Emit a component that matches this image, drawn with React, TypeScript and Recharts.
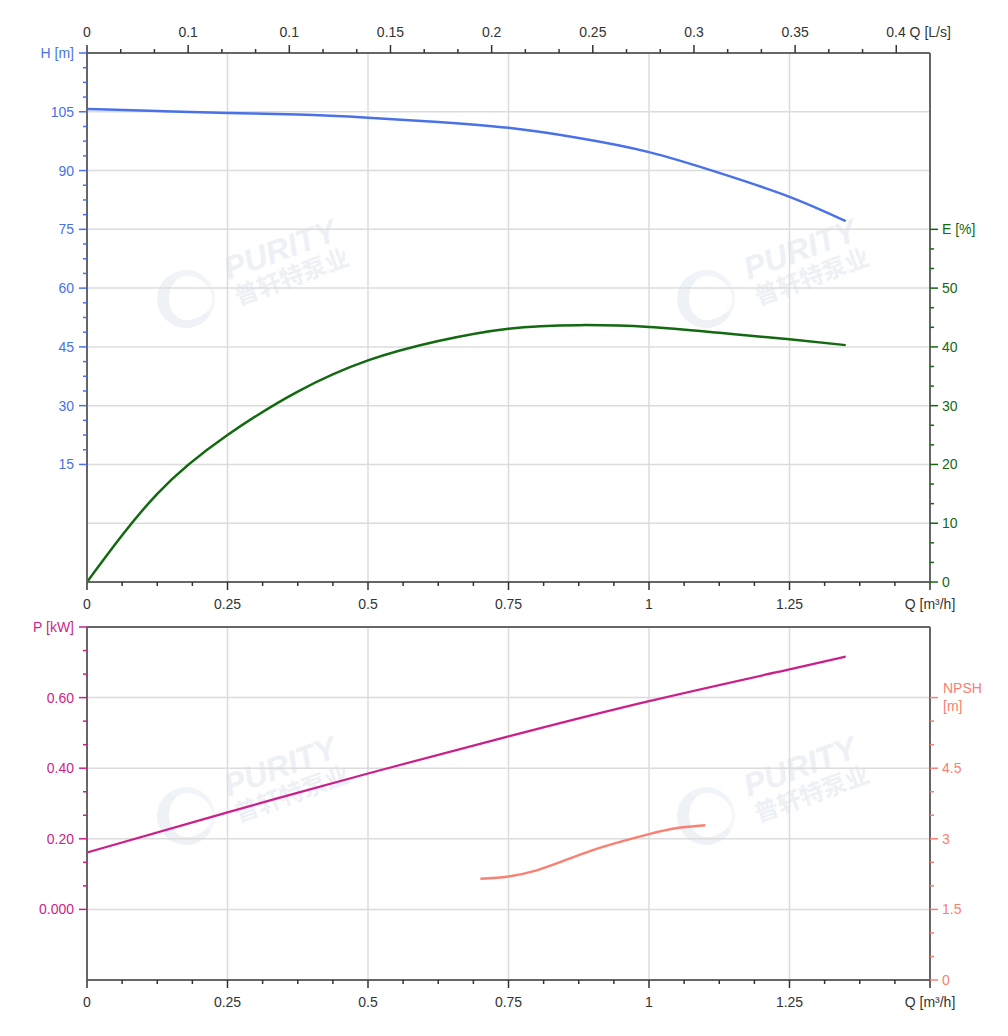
import React from 'react'
import { LineChart, Line, XAxis, YAxis, ReferenceLine } from 'recharts'

// flow axis (m³/h), bottom of both panels
const Q_MAJOR = [0, 0.25, 0.5, 0.75, 1, 1.25, 1.5]
const Q_LABELS = ['0', '0.25', '0.5', '0.75', '1', '1.25', 'Q [m³/h]']
// flow axis (L/s), top of upper panel
const LS_MAJOR = [0, 0.05, 0.1, 0.15, 0.2, 0.25, 0.3, 0.35, 0.4]
const LS_LABELS = ['0', '0.1', '0.1', '0.15', '0.2', '0.25', '0.3', '0.35', '0.4 Q [L/s]']
const H_MAJOR = [15, 30, 45, 60, 75, 90, 105, 120]
const H_LABELS = ['15', '30', '45', '60', '75', '90', '105', 'H [m]']
const H_GRID = [0, 15, 30, 45, 60, 75, 90, 105]
const E_MAJOR = [0, 10, 20, 30, 40, 50, 60]
const E_LABELS = ['0', '10', '20', '30', '40', '50', 'E [%]']
const P_MAJOR = [0, 0.2, 0.4, 0.6, 0.8]
const P_LABELS = ['0.000', '0.20', '0.40', '0.60', 'P [kW]']
const NPSH_MAJOR = [0, 1.5, 3, 4.5, 6]
const NPSH_LABELS = ['0', '1.5', '3', '4.5', 'NPSH [m]']
const Q_GRID = [0.25, 0.5, 0.75, 1, 1.25]
const P_GRID = [0, 0.2, 0.4, 0.6]

// curves
const H_Q = [0, 0.125, 0.25, 0.375, 0.5, 0.625, 0.75, 0.875, 1, 1.125, 1.25, 1.35]
const H_VALUES = [105.7, 105.2, 104.7, 104.3, 103.5, 102.4, 100.9, 98.3, 94.7, 89.4, 83.3, 77.1]
const E_Q = [0, 0.125, 0.25, 0.375, 0.5, 0.625, 0.75, 0.875, 1, 1.125, 1.25, 1.35]
const E_VALUES = [0, 15.0, 25.0, 32.4, 37.7, 41.0, 43.1, 43.7, 43.4, 42.4, 41.3, 40.3]
const P_Q = [0, 0.25, 0.5, 0.75, 1, 1.25, 1.35]
const P_VALUES = [0.161, 0.275, 0.385, 0.49, 0.59, 0.68, 0.716]
const NPSH_Q = [0.7, 0.75, 0.8, 0.85, 0.9, 0.95, 1, 1.05, 1.1]
const NPSH_VALUES = [2.15, 2.2, 2.33, 2.54, 2.76, 2.94, 3.1, 3.23, 3.29]

const LS_PER_M3H = 1 / 3.6

const hData = H_Q.map((q, i) => ({ q, h: H_VALUES[i] }))
const eData = E_Q.map((q, i) => ({ q, e: E_VALUES[i] }))
const pData = P_Q.map((q, i) => ({ q, p: P_VALUES[i] }))
const npshData = NPSH_Q.map((q, i) => ({ q, npsh: NPSH_VALUES[i] }))

// major ticks plus n-1 minor ticks between each pair
const subdivide = (majors: number[], n: number) =>
  majors.flatMap((m, i) =>
    i === majors.length - 1 ? [m] : Array.from({ length: n }, (_, k) => m + ((majors[i + 1] - m) * k) / n)
  )

const FONT = '"Liberation Sans", Arial, sans-serif'
const FRAME = '#666'
const GRID = '#dcdcdc'
const AXIS_TEXT = '#333'
const H_COLOR = '#4a72e8'
const E_COLOR = '#13690f'
const P_COLOR = '#cc1f8a'
const NPSH_COLOR = '#fa8072'

type Side = 'top' | 'bottom' | 'left' | 'right'

function makeTick(side: Side, majors: number[], labels: string[], tickColor: string, textColor: string) {
  return (props: any) => {
    const { x, y, payload } = props
    const idx = majors.findIndex((m) => Math.abs(m - payload.value) < 1e-6)
    const len = idx >= 0 ? 8 : 4
    const label = idx >= 0 ? labels[idx] : null
    const txt = { fontFamily: FONT, fontSize: 14, fill: textColor }
    if (side === 'bottom') {
      return (
        <g>
          <line x1={x} y1={y} x2={x} y2={y + len} stroke={tickColor} strokeWidth={1.5} />
          {label && <text x={x} y={y + 27} textAnchor="middle" {...txt}>{label}</text>}
        </g>
      )
    }
    if (side === 'top') {
      const last = idx === majors.length - 1
      return (
        <g>
          <line x1={x} y1={y} x2={x} y2={y - len} stroke={tickColor} strokeWidth={1.5} />
          {label && (
            <text x={last ? x - 10 : x} y={y - 16} textAnchor={last ? 'start' : 'middle'} {...txt}>
              {label}
            </text>
          )}
        </g>
      )
    }
    if (side === 'left') {
      return (
        <g>
          <line x1={x} y1={y} x2={x - len} y2={y} stroke={tickColor} strokeWidth={1.5} />
          {label && <text x={x - 13} y={y + 5} textAnchor="end" {...txt}>{label}</text>}
        </g>
      )
    }
    const parts = label ? label.split(' ') : []
    return (
      <g>
        <line x1={x} y1={y} x2={x + len} y2={y} stroke={tickColor} strokeWidth={1.5} />
        {label && label.startsWith('NPSH') ? (
          <text x={x + 13} y={y - 5} textAnchor="start" {...txt}>
            <tspan x={x + 13}>{parts[0]}</tspan>
            <tspan x={x + 13} dy={18}>{parts[1]}</tspan>
          </text>
        ) : (
          label && <text x={x + 12} y={y + 5} textAnchor="start" {...txt}>{label}</text>
        )}
      </g>
    )
  }
}

function Watermark({ left, top }: { left: number; top: number }) {
  const word = {
    position: 'absolute' as const,
    transform: 'translate(-50%, -50%) rotate(-20deg)',
    fontFamily: FONT,
    fontWeight: 'bold' as const,
    color: '#edf0f5',
    whiteSpace: 'nowrap' as const,
  }
  return (
    <div style={{ position: 'absolute', left, top, width: 200, height: 110 }}>
      <div
        style={{
          position: 'absolute',
          left: 2,
          top: 45,
          width: 58,
          height: 58,
          borderRadius: '50%',
          borderLeft: '12px solid #eef1f6',
          borderBottom: '8px solid #eef1f6',
          borderTop: '6px solid #f1f4f8',
          borderRight: '3px solid #f4f6f9',
          boxSizing: 'border-box',
        }}
      />
      <div style={{ ...word, left: 125, top: 25, fontSize: 32, fontStyle: 'italic' }}>PURITY</div>
      <div style={{ ...word, left: 136, top: 50, fontSize: 24, fontFamily: '"Noto Sans CJK SC", sans-serif' }}>
        普轩特泵业
      </div>
    </div>
  )
}

const axisLine = { stroke: FRAME, strokeWidth: 2 }

export default function App() {
  return (
    <div style={{ position: 'absolute', left: 0, top: 0, width: 1008, height: 1036, background: '#fff' }}>
      <Watermark left={155} top={225} />
      <Watermark left={675} top={225} />
      <Watermark left={155} top={742} />
      <Watermark left={675} top={742} />

      <div style={{ position: 'absolute', left: 0, top: 0 }}>
        <LineChart width={1008} height={612} margin={{ top: 23, right: 28, bottom: 0, left: 37 }}>
          <XAxis
            xAxisId="q"
            dataKey="q"
            type="number"
            domain={[0, 1.5]}
            allowDataOverflow
            ticks={subdivide(Q_MAJOR, 4)}
            interval={0}
            height={30}
            tickSize={0}
            tickMargin={0}
            axisLine={axisLine}
            tickLine={false}
            tick={makeTick('bottom', Q_MAJOR, Q_LABELS, AXIS_TEXT, AXIS_TEXT)}
          />
          <XAxis
            xAxisId="ls"
            orientation="top"
            dataKey={(d: { q: number }) => d.q * LS_PER_M3H}
            type="number"
            domain={[0, 1.5 * LS_PER_M3H]}
            allowDataOverflow
            ticks={subdivide(LS_MAJOR, 3)}
            interval={0}
            height={30}
            tickSize={0}
            tickMargin={0}
            axisLine={axisLine}
            tickLine={false}
            tick={makeTick('top', LS_MAJOR, LS_LABELS, AXIS_TEXT, AXIS_TEXT)}
          />
          <YAxis
            yAxisId="h"
            type="number"
            domain={[-15, 120]}
            allowDataOverflow
            ticks={subdivide(H_MAJOR, 4)}
            interval={0}
            width={50}
            tickSize={0}
            tickMargin={0}
            axisLine={axisLine}
            tickLine={false}
            tick={makeTick('left', H_MAJOR, H_LABELS, H_COLOR, H_COLOR)}
          />
          <YAxis
            yAxisId="e"
            orientation="right"
            type="number"
            domain={[0, 90]}
            allowDataOverflow
            ticks={subdivide(E_MAJOR, 3)}
            interval={0}
            width={50}
            tickSize={0}
            tickMargin={0}
            axisLine={axisLine}
            tickLine={false}
            tick={makeTick('right', E_MAJOR, E_LABELS, E_COLOR, E_COLOR)}
          />
          {Q_GRID.map((v) => (
            <ReferenceLine key={`qx${v}`} x={v} xAxisId="q" yAxisId="h" stroke={GRID} strokeWidth={1.5} />
          ))}
          {H_GRID.map((v) => (
            <ReferenceLine key={`hy${v}`} y={v} xAxisId="q" yAxisId="h" stroke={GRID} strokeWidth={1.5} />
          ))}
          {/* head curve drawn on the L/s scale (same positions as m³/h) */}
          <Line
            data={hData}
            dataKey="h"
            xAxisId="ls"
            yAxisId="h"
            type="natural"
            stroke={H_COLOR}
            strokeWidth={2.5}
            dot={false}
            isAnimationActive={false}
          />
          <Line
            data={eData}
            dataKey="e"
            xAxisId="q"
            yAxisId="e"
            type="natural"
            stroke={E_COLOR}
            strokeWidth={2.5}
            dot={false}
            isAnimationActive={false}
          />
        </LineChart>
      </div>

      <div style={{ position: 'absolute', left: 0, top: 612 }}>
        <LineChart width={1008} height={400} margin={{ top: 15, right: 28, bottom: 2, left: 37 }}>
          <XAxis
            xAxisId="q"
            dataKey="q"
            type="number"
            domain={[0, 1.5]}
            allowDataOverflow
            ticks={subdivide(Q_MAJOR, 4)}
            interval={0}
            height={30}
            tickSize={0}
            tickMargin={0}
            axisLine={axisLine}
            tickLine={false}
            tick={makeTick('bottom', Q_MAJOR, Q_LABELS, AXIS_TEXT, AXIS_TEXT)}
          />
          <YAxis
            yAxisId="p"
            type="number"
            domain={[-0.2, 0.8]}
            allowDataOverflow
            ticks={subdivide(P_MAJOR, 3)}
            interval={0}
            width={50}
            tickSize={0}
            tickMargin={0}
            axisLine={axisLine}
            tickLine={false}
            tick={makeTick('left', P_MAJOR, P_LABELS, P_COLOR, P_COLOR)}
          />
          <YAxis
            yAxisId="npsh"
            orientation="right"
            type="number"
            domain={[0, 7.5]}
            allowDataOverflow
            ticks={subdivide(NPSH_MAJOR, 3)}
            interval={0}
            width={50}
            tickSize={0}
            tickMargin={0}
            axisLine={axisLine}
            tickLine={false}
            tick={makeTick('right', NPSH_MAJOR, NPSH_LABELS, NPSH_COLOR, NPSH_COLOR)}
          />
          {Q_GRID.map((v) => (
            <ReferenceLine key={`qx${v}`} x={v} xAxisId="q" yAxisId="p" stroke={GRID} strokeWidth={1.5} />
          ))}
          {P_GRID.map((v) => (
            <ReferenceLine key={`py${v}`} y={v} xAxisId="q" yAxisId="p" stroke={GRID} strokeWidth={1.5} />
          ))}
          <ReferenceLine y={0.8} xAxisId="q" yAxisId="p" stroke={FRAME} strokeWidth={2} />
          <Line
            data={pData}
            dataKey="p"
            xAxisId="q"
            yAxisId="p"
            type="natural"
            stroke={P_COLOR}
            strokeWidth={2.2}
            dot={false}
            isAnimationActive={false}
          />
          <Line
            data={npshData}
            dataKey="npsh"
            xAxisId="q"
            yAxisId="npsh"
            type="natural"
            stroke={NPSH_COLOR}
            strokeWidth={2.5}
            dot={false}
            isAnimationActive={false}
          />
        </LineChart>
      </div>
    </div>
  )
}
